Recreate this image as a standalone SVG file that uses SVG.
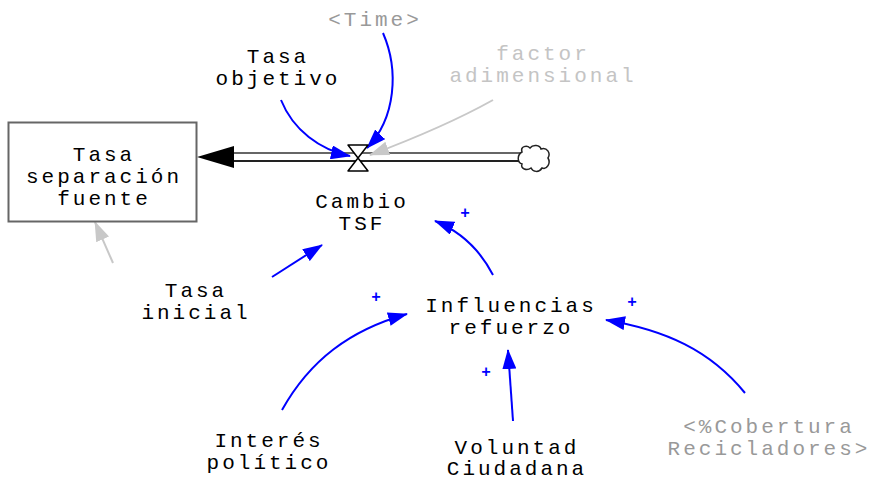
<svg xmlns="http://www.w3.org/2000/svg" width="872" height="481" viewBox="0 0 872 481">
  <style>
    text { font-family: "Liberation Mono", "Courier New", monospace; font-size: 21px; letter-spacing: 3px; text-anchor: middle; fill: #000; }
    .shadow { fill: #999; }
    .faint { fill: #c4c4c4; }
    .pol { font-size: 16px; letter-spacing: 0; fill: #0000ff; font-weight: bold; }
    .link { fill: none; stroke: #0000ff; stroke-width: 2; }
    .glink { fill: none; stroke: #c8c8c8; stroke-width: 2; }
  </style>
  <defs>
    <marker id="ah" viewBox="0 0 20 14" refX="19" refY="7" markerWidth="20" markerHeight="14" markerUnits="userSpaceOnUse" orient="auto">
      <path d="M0,0 L20,7 L0,14 Z" fill="#0000ff"/>
    </marker>
    <marker id="ahg" viewBox="0 0 20 14" refX="19" refY="7" markerWidth="20" markerHeight="14" markerUnits="userSpaceOnUse" orient="auto">
      <path d="M0,0 L20,7 L0,14 Z" fill="#c8c8c8"/>
    </marker>
  </defs>

  <!-- flow pipe -->
  <g id="flow-pipe">
    <line x1="225" y1="153" x2="522" y2="153" stroke="#666" stroke-width="2"/>
    <line x1="225" y1="161" x2="522" y2="161" stroke="#222" stroke-width="2"/>
    <path d="M197,157 L234,146 L234,168 Z" fill="#000"/>
  </g>

  <!-- connectors -->
  <g id="connectors">
    <path class="link" d="M383,33 C399,70 396,118 367,148" marker-end="url(#ah)"/>
    <path class="link" d="M281,100 C293,130 320,150 350,156" marker-end="url(#ah)"/>
    <path class="glink" d="M493,100 C450,124 410,140 370,155" marker-end="url(#ahg)"/>
    <path class="link" d="M272,277 L322,245" marker-end="url(#ah)"/>
    <path class="glink" d="M113,263 L95,222" marker-end="url(#ahg)"/>
    <path class="link" d="M493,275 C480,250 462,232 435,221" marker-end="url(#ah)"/>
    <path class="link" d="M282,410 C310,360 350,330 407,314" marker-end="url(#ah)"/>
    <path class="link" d="M513,421 L508,350" marker-end="url(#ah)"/>
    <path class="link" d="M745,393 C710,350 665,330 606,320" marker-end="url(#ah)"/>
    <text class="pol" x="465" y="218">+</text>
    <text class="pol" x="376" y="302">+</text>
    <text class="pol" x="486" y="377">+</text>
    <text class="pol" x="632" y="307">+</text>
  </g>

  <!-- valve -->
  <g id="cambio-tsf">
    <path d="M348,145 L368,145 L358,158 Z M358,158 L348,171 L368,171 Z" fill="#fff" stroke="#000" stroke-width="1.5" stroke-linejoin="round"/>
    <text x="362" y="208">Cambio</text>
    <text x="362" y="230">TSF</text>
  </g>

  <!-- source cloud -->
  <g id="cloud">
    <path d="M522,152 C520,146 527,145 530,148 C533,144 540,145 541,149 C547,147 551,153 548,158 C551,163 547,170 542,168 C539,173 533,172 531,168 C527,171 520,169 522,164 C517,162 517,155 522,152 Z" fill="#fff" stroke="#222" stroke-width="1.5"/>
  </g>

  <g id="tasa-separacion-fuente">
    <rect x="8.5" y="122.5" width="188" height="99" fill="#fff" stroke="#666" stroke-width="2"/>
    <text x="104" y="161">Tasa</text>
    <text x="104" y="183">separación</text>
    <text x="104" y="205">fuente</text>
  </g>

  <g id="time">
    <text class="shadow" x="375" y="26">&lt;Time&gt;</text>
  </g>

  <g id="tasa-objetivo">
    <text x="278" y="63">Tasa</text>
    <text x="278" y="85">objetivo</text>
  </g>

  <g id="factor-adimensional">
    <text class="faint" x="543" y="60">factor</text>
    <text class="faint" x="543" y="82">adimensional</text>
  </g>

  <g id="tasa-inicial">
    <text x="196" y="297">Tasa</text>
    <text x="196" y="319">inicial</text>
  </g>

  <g id="influencias-refuerzo">
    <text x="511" y="312">Influencias</text>
    <text x="511" y="334">refuerzo</text>
  </g>

  <g id="interes-politico">
    <text x="269" y="447">Interés</text>
    <text x="269" y="469">político</text>
  </g>

  <g id="voluntad-ciudadana">
    <text x="517" y="454">Voluntad</text>
    <text x="517" y="475">Ciudadana</text>
  </g>

  <g id="cobertura-recicladores">
    <text class="shadow" x="769" y="433">&lt;%Cobertura</text>
    <text class="shadow" x="769" y="455">Recicladores&gt;</text>
  </g>
</svg>
